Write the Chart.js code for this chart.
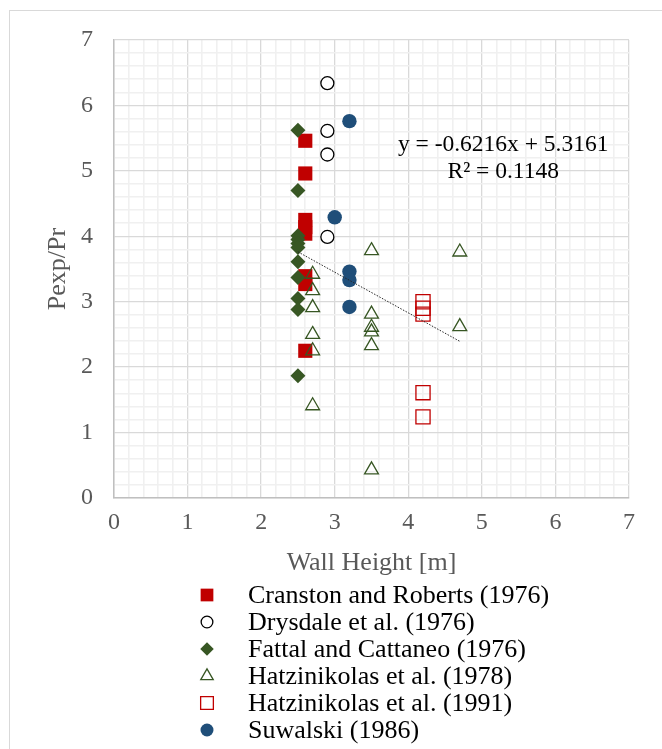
<!DOCTYPE html>
<html>
<head>
<meta charset="utf-8">
<title>Pexp/Pr vs Wall Height</title>
<script src="https://cdn.jsdelivr.net/npm/chart.js@4.4.1/dist/chart.umd.min.js"></script>
<style>
  html, body { margin: 0; padding: 0; background: #ffffff; }
  #wrap { width: 662px; height: 749px; position: relative; }
</style>
</head>
<body>
<div id="wrap"><canvas id="chart" width="662" height="749"></canvas></div>
<script>
// ---- data -------------------------------------------------------------
const seriesNames = [
  'Cranston and Roberts (1976)',
  'Drysdale et al. (1976)',
  'Fattal and Cattaneo (1976)',
  'Hatzinikolas et al. (1978)',
  'Hatzinikolas et al. (1991)',
  'Suwalski (1986)'
];

const cranstonX = [2.6, 2.6, 2.6, 2.6, 2.6, 2.6, 2.6, 2.6];
const cranstonY = [5.46, 4.96, 4.25, 4.14, 4.04, 3.39, 3.27, 2.25];

const drysdaleX = [2.9, 2.9, 2.9, 2.9];
const drysdaleY = [6.34, 5.61, 5.25, 3.99];

const fattalX = [2.5, 2.5, 2.5, 2.5, 2.5, 2.5, 2.5, 2.5, 2.5, 2.5, 2.5];
const fattalY = [5.62, 4.70, 4.01, 3.95, 3.89, 3.83, 3.61, 3.37, 3.05, 2.88, 1.87];

const hatz78X = [2.7, 2.7, 2.7, 2.7, 2.7, 2.7, 3.5, 3.5, 3.5, 3.5, 3.5, 3.5, 4.7, 4.7];
const hatz78Y = [3.42, 3.17, 2.91, 2.50, 2.25, 1.41, 3.78, 2.81, 2.61, 2.54, 2.33, 0.43, 3.76, 2.62];

const hatz91X = [4.2, 4.2, 4.2, 4.2, 4.2];
const hatz91Y = [3.00, 2.90, 2.81, 1.61, 1.24];

const suwalskiX = [3.2, 3.0, 3.2, 3.2, 3.2];
const suwalskiY = [5.76, 4.29, 3.46, 3.33, 2.92];

// linear trend fitted over all series
const trendSlope = -0.6216;
const trendIntercept = 5.3161;
const trendR2 = 0.1148;
const trendRangeX = [2.5, 4.7];

const axisTicks = [0, 1, 2, 3, 4, 5, 6, 7];

// ---- helpers ----------------------------------------------------------
const SERIF = "'Liberation Serif', 'Times New Roman', serif";
const pts = (xs, ys) => xs.map((x, i) => ({ x: x, y: ys[i] }));
const isMajor = v => Math.abs(v - Math.round(v)) < 1e-6;
const majorLabel = v => (isMajor(v) && axisTicks.includes(Math.round(v))) ? String(Math.round(v)) : '';
const gridColor = c => (c.tick && isMajor(c.tick.value)) ? '#d9d9d9' : '#f0f0f0';
const gridWidth = c => (c.tick && isMajor(c.tick.value)) ? 1.3 : 1.6;

const trendPoints = trendRangeX.map(x => ({ x: x, y: trendSlope * x + trendIntercept }));

const fmt = n => (n < 0 ? '-' : '') + Math.abs(n).toFixed(4);
const trendText = [
  'y = ' + fmt(trendSlope) + 'x + ' + fmt(trendIntercept),
  'R\u00B2 = ' + trendR2.toFixed(4)
];

// ---- marker drawing for the legend -----------------------------------
function drawMarker(ctx, ds, x, y, scale) {
  const r = ds.pointRadius * scale;
  ctx.save();
  ctx.beginPath();
  switch (ds.pointStyle) {
    case 'rect': {
      const h = r * Math.SQRT1_2;
      ctx.rect(x - h, y - h, 2 * h, 2 * h);
      break;
    }
    case 'rectRot':
      ctx.moveTo(x - r, y); ctx.lineTo(x, y - r); ctx.lineTo(x + r, y); ctx.lineTo(x, y + r);
      ctx.closePath();
      break;
    case 'triangle': {
      let a = 0;
      ctx.moveTo(x + Math.sin(a) * r, y - Math.cos(a) * r);
      a += 2 * Math.PI / 3;
      ctx.lineTo(x + Math.sin(a) * r, y - Math.cos(a) * r);
      a += 2 * Math.PI / 3;
      ctx.lineTo(x + Math.sin(a) * r, y - Math.cos(a) * r);
      ctx.closePath();
      break;
    }
    default:
      ctx.arc(x, y, r, 0, Math.PI * 2);
  }
  ctx.fillStyle = ds.pointBackgroundColor;
  ctx.fill();
  if (ds.pointBorderWidth > 0) {
    ctx.strokeStyle = ds.pointBorderColor;
    ctx.lineWidth = ds.pointBorderWidth;
    ctx.stroke();
  }
  ctx.restore();
}

// ---- plugins ----------------------------------------------------------
const frame = {
  id: 'frame',
  beforeDraw(chart) {
    const ctx = chart.ctx;
    ctx.save();
    ctx.fillStyle = '#ffffff';
    ctx.fillRect(0, 0, chart.width, chart.height);
    ctx.strokeStyle = '#d9d9d9';
    ctx.lineWidth = 1;
    ctx.strokeRect(9.5, 10.5, chart.width + 20, chart.height + 20);
    ctx.restore();
  }
};

const trendLabel = {
  id: 'trendLabel',
  afterDatasetsDraw(chart) {
    const ctx = chart.ctx;
    const xs = chart.scales.x, ys = chart.scales.y;
    const cx = xs.getPixelForValue(5.29);
    ctx.save();
    ctx.font = '23.5px ' + SERIF;
    ctx.fillStyle = '#000000';
    ctx.textAlign = 'center';
    ctx.textBaseline = 'middle';
    ctx.fillText(trendText[0], cx, ys.getPixelForValue(5.40));
    ctx.fillText(trendText[1], cx, ys.getPixelForValue(4.99));
    ctx.restore();
  }
};

const seriesLegend = {
  id: 'seriesLegend',
  afterDraw(chart) {
    const ctx = chart.ctx;
    ctx.save();
    ctx.font = '26px ' + SERIF;
    ctx.textAlign = 'left';
    ctx.textBaseline = 'middle';
    seriesNames.forEach((name, i) => {
      const ds = chart.data.datasets[i];
      const y = 595 + i * 27;
      drawMarker(ctx, ds, 207, y, 0.9);
      ctx.fillStyle = '#000000';
      ctx.fillText(name, 248, y + 1);
    });
    ctx.restore();
  }
};

// ---- chart ------------------------------------------------------------
const marker = (style, radius, fill, stroke, width) => ({
  pointStyle: style, pointRadius: radius, pointHoverRadius: radius,
  pointBackgroundColor: fill, pointBorderColor: stroke, pointBorderWidth: width,
  backgroundColor: fill, borderColor: stroke, showLine: false
});

new Chart(document.getElementById('chart'), {
  type: 'scatter',
  data: {
    datasets: [
      Object.assign({ label: seriesNames[0], data: pts(cranstonX, cranstonY), order: 6 },
        marker('rect', 10, '#c00000', '#c00000', 0)),
      Object.assign({ label: seriesNames[1], data: pts(drysdaleX, drysdaleY), order: 5 },
        marker('circle', 6.5, '#ffffff', '#000000', 1.3)),
      Object.assign({ label: seriesNames[2], data: pts(fattalX, fattalY), order: 4 },
        marker('rectRot', 7.5, '#375623', '#375623', 0)),
      Object.assign({ label: seriesNames[3], data: pts(hatz78X, hatz78Y), order: 3 },
        marker('triangle', 8, 'rgba(0,0,0,0)', '#375623', 1.3)),
      Object.assign({ label: seriesNames[4], data: pts(hatz91X, hatz91Y), order: 2 },
        marker('rect', 10, 'rgba(0,0,0,0)', '#c00000', 1.3)),
      Object.assign({ label: seriesNames[5], data: pts(suwalskiX, suwalskiY), order: 1 },
        marker('circle', 7.2, '#1f4e79', '#1f4e79', 0)),
      {
        label: 'Linear trend',
        type: 'line',
        data: trendPoints,
        order: 0,
        showLine: true,
        borderColor: '#262626',
        borderWidth: 1,
        borderDash: [1.5, 1.5],
        pointRadius: 0,
        fill: false
      }
    ]
  },
  options: {
    responsive: false,
    animation: false,
    devicePixelRatio: 1,
    layout: { padding: { left: 42.4, right: 33, top: 40, bottom: 170.4 } },
    plugins: {
      legend: { display: false },
      tooltip: { enabled: false }
    },
    scales: {
      x: {
        type: 'linear', min: 0, max: 7,
        afterFit: s => { s.height = 80.6; },
        ticks: {
          stepSize: 0.2, autoSkip: false, maxRotation: 0, minRotation: 0, padding: 10,
          color: '#595959', font: { family: SERIF, size: 24 }, callback: majorLabel
        },
        grid: { drawTicks: false, color: gridColor, lineWidth: gridWidth },
        border: { color: '#bfbfbf', width: 1.5 },
        title: {
          display: true, text: 'Wall Height [m]', color: '#595959',
          font: { family: SERIF, size: 26 }, padding: 0
        }
      },
      y: {
        type: 'linear', min: 0, max: 7,
        afterFit: s => { s.width = 71.6; },
        ticks: {
          stepSize: 0.2, autoSkip: false, padding: 21,
          color: '#595959', font: { family: SERIF, size: 24 }, callback: majorLabel
        },
        grid: { drawTicks: false, color: gridColor, lineWidth: gridWidth },
        border: { color: '#bfbfbf', width: 1.5 },
        title: {
          display: true, text: 'Pexp/Pr', color: '#595959',
          font: { family: SERIF, size: 26 }, padding: 0
        }
      }
    }
  },
  plugins: [frame, trendLabel, seriesLegend]
});
</script>
</body>
</html>
